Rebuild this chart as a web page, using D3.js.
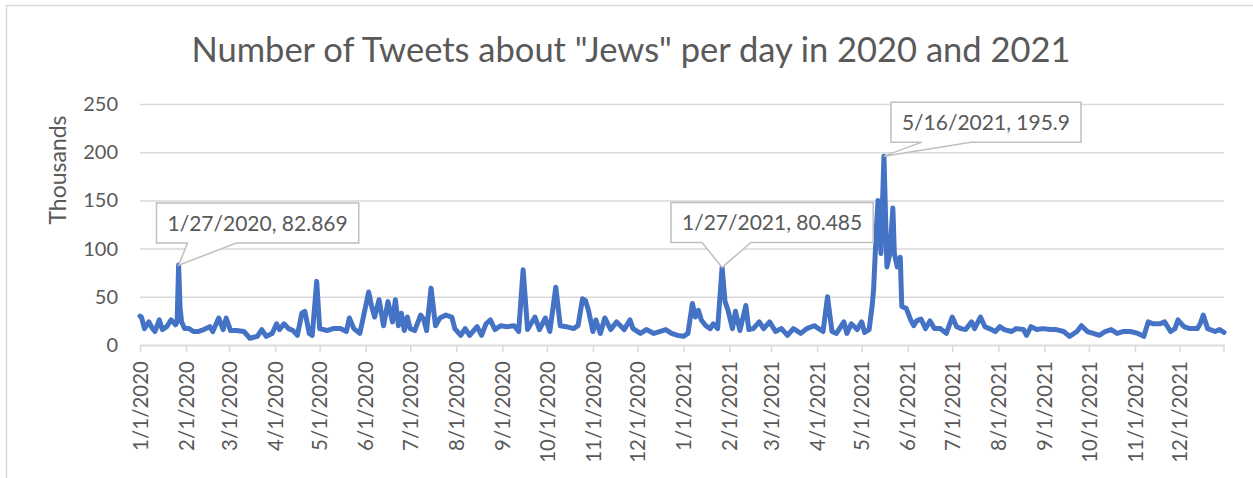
<!DOCTYPE html>
<html>
<head>
<meta charset="utf-8">
<script src="https://cdn.jsdelivr.net/npm/d3@7"></script>
<style>
  body { margin: 0; background: #fff; }
  svg text { font-family: Lato, "Noto Sans", sans-serif; fill: #595959; }
</style>
</head>
<body>
<div id="container"></div>
<script>
'use strict'

// values (thousands of tweets per day)
const dates = [
  "2020-01-01","2020-01-02","2020-01-04","2020-01-07","2020-01-09","2020-01-11","2020-01-14","2020-01-16",
  "2020-01-19","2020-01-22","2020-01-25","2020-01-26","2020-01-27","2020-01-28","2020-01-29","2020-01-31",
  "2020-02-03","2020-02-06","2020-02-09","2020-02-13","2020-02-17","2020-02-19","2020-02-23","2020-02-26",
  "2020-02-28","2020-03-02","2020-03-06","2020-03-11","2020-03-15","2020-03-20","2020-03-23","2020-03-26",
  "2020-03-30","2020-04-02","2020-04-04","2020-04-07","2020-04-10","2020-04-13","2020-04-16","2020-04-19",
  "2020-04-21","2020-04-24","2020-04-26","2020-04-29","2020-05-01","2020-05-06","2020-05-10","2020-05-15",
  "2020-05-19","2020-05-21","2020-05-24","2020-05-28","2020-05-30","2020-06-03","2020-06-05","2020-06-07",
  "2020-06-10","2020-06-13","2020-06-16","2020-06-19","2020-06-21","2020-06-23","2020-06-25","2020-06-27",
  "2020-06-29","2020-07-01","2020-07-04","2020-07-08","2020-07-10","2020-07-12","2020-07-15","2020-07-18",
  "2020-07-21","2020-07-25","2020-07-29","2020-07-31","2020-08-04","2020-08-07","2020-08-10","2020-08-15",
  "2020-08-18","2020-08-21","2020-08-24","2020-08-27","2020-08-31","2020-09-04","2020-09-09","2020-09-12",
  "2020-09-15","2020-09-18","2020-09-23","2020-09-26","2020-09-30","2020-10-03","2020-10-07","2020-10-10",
  "2020-10-14","2020-10-19","2020-10-22","2020-10-25","2020-10-27","2020-10-29","2020-11-01","2020-11-03",
  "2020-11-06","2020-11-09","2020-11-13","2020-11-17","2020-11-22","2020-11-26","2020-11-28","2020-12-03",
  "2020-12-07","2020-12-12","2020-12-16","2020-12-20","2020-12-24","2020-12-28",
  "2021-01-01","2021-01-04","2021-01-07","2021-01-09","2021-01-11","2021-01-13","2021-01-16","2021-01-19",
  "2021-01-21","2021-01-24","2021-01-27","2021-01-29","2021-01-31","2021-02-03","2021-02-05","2021-02-08",
  "2021-02-12","2021-02-14","2021-02-17","2021-02-21","2021-02-24","2021-02-28","2021-03-04","2021-03-08",
  "2021-03-12","2021-03-16","2021-03-21","2021-03-25","2021-03-30","2021-04-02","2021-04-05","2021-04-08",
  "2021-04-11","2021-04-14","2021-04-19","2021-04-21","2021-04-24","2021-04-28","2021-05-01","2021-05-03",
  "2021-05-06","2021-05-08","2021-05-09","2021-05-11","2021-05-12","2021-05-14","2021-05-16","2021-05-18",
  "2021-05-20","2021-05-22","2021-05-23","2021-05-25","2021-05-27","2021-05-28","2021-05-31","2021-06-03",
  "2021-06-05","2021-06-07","2021-06-10","2021-06-13","2021-06-16","2021-06-19","2021-06-23","2021-06-27",
  "2021-07-01","2021-07-04","2021-07-07","2021-07-10","2021-07-14","2021-07-16","2021-07-20","2021-07-23",
  "2021-07-26","2021-07-30","2021-08-02","2021-08-05","2021-08-10","2021-08-13","2021-08-18","2021-08-20",
  "2021-08-23","2021-08-27","2021-08-31","2021-09-05","2021-09-09","2021-09-14","2021-09-18","2021-09-23",
  "2021-09-26","2021-09-30","2021-10-04","2021-10-08","2021-10-12","2021-10-16","2021-10-20","2021-10-24",
  "2021-10-29","2021-11-03","2021-11-07","2021-11-10","2021-11-13","2021-11-18","2021-11-21","2021-11-25",
  "2021-11-28","2021-11-30","2021-12-04","2021-12-08","2021-12-13","2021-12-15","2021-12-17","2021-12-20",
  "2021-12-25","2021-12-28","2021-12-31"
];
const values = [
  30,29,17,24,18,14,26,16,
  19,26,21,24,82.869,38,24,17,
  17,14,14,16,19,14,28,16,
  28,15,15,14,7,9,16,9,
  12,22,16,22,17,15,10,33,
  35,12,10,66,17,15,17,17,
  14,28,17,12,26,55,40,29,
  47,20,45,24,47,20,33,15,
  29,17,15,31,27,15,59,20,
  28,31,29,17,10,17,10,19,
  10,22,26,16,20,19,20,14,
  78,16,29,16,28,14,60,20,
  19,17,20,48,46,36,14,26,
  12,28,16,24,16,26,17,12,
  16,12,14,16,12,10,
  9,12,43,29,36,26,20,17,
  22,17,80.485,45,36,17,35,15,
  41,16,17,24,17,24,14,17,
  10,17,12,17,20,17,14,50,
  14,12,24,12,22,16,24,13,
  16,40,57,123,150,95,195.9,81,
  95,142,95,81,91,40,38,26,
  20,25,27,17,25,17,17,12,
  29,19,17,16,24,17,29,19,
  17,14,19,16,14,17,16,10,
  19,16,17,16,16,14,9,14,
  20,14,12,10,14,16,12,14,
  14,12,9,24,22,22,24,14,
  17,26,19,17,17,22,31,17,
  14,16,13
];

// callouts
const noteDates  = ["2020-01-27", "2021-01-27", "2021-05-16"];
const noteValues = [82.869, 80.485, 195.9];
const noteLabels = ["1/27/2020, 82.869", "1/27/2021, 80.485", "5/16/2021, 195.9"];

const yTicks = [0, 50, 100, 150, 200, 250];
const xTickDates = [
  "2020-01-01","2020-02-01","2020-03-01","2020-04-01","2020-05-01","2020-06-01",
  "2020-07-01","2020-08-01","2020-09-01","2020-10-01","2020-11-01","2020-12-01",
  "2021-01-01","2021-02-01","2021-03-01","2021-04-01","2021-05-01","2021-06-01",
  "2021-07-01","2021-08-01","2021-09-01","2021-10-01","2021-11-01","2021-12-01"
];

const w = 1253, h = 478;
const plotL = 140, plotR = 1224, plotT = 104, plotB = 345;
const parse = d3.timeParse("%Y-%m-%d");
const fmt = d3.timeFormat("%-m/%-d/%Y");

const svg = d3.select("#container").append("svg").attr("width", w).attr("height", h);

// outer chart border
svg.append("rect").attr("x", 6.5).attr("y", 5.5).attr("width", 1300).attr("height", 600)
   .attr("fill", "none").attr("stroke", "#d9d9d9").attr("stroke-width", 1.5);

// title
svg.append("text").text('Number of Tweets about "Jews" per day in 2020 and 2021')
   .attr("x", 631).attr("y", 62).attr("text-anchor", "middle")
   .style("font-size", "34.5px");

//Scales
const xScale = d3.scaleTime().domain([parse("2020-01-01"), parse("2021-12-31")]).range([plotL, plotR]);
const yScale = d3.scaleLinear().domain([0, 250]).range([plotB, plotT]);

// gridlines + y labels
const yAxis = d3.axisLeft(yScale).tickValues(yTicks).tickSize(-(plotR - plotL)).tickPadding(22);
const gy = svg.append("g").attr("transform", "translate(" + plotL + ",0)").call(yAxis);
gy.select(".domain").remove();
gy.selectAll("line").attr("stroke", "#d9d9d9").attr("stroke-width", 1.5);
gy.selectAll("text").style("font-size", "20px").attr("fill", "#595959")
  .style("font-family", "Lato, 'Noto Sans', sans-serif");

// axis title
svg.append("text").text("Thousands")
   .attr("transform", "translate(66,170) rotate(-90)").attr("text-anchor", "middle")
   .style("font-size", "23px");

// x axis
const xAxis = d3.axisBottom(xScale).tickValues(xTickDates.map(parse)).tickFormat(fmt).tickSize(7).tickSizeOuter(0);
const gx = svg.append("g").attr("transform", "translate(0," + plotB + ")").call(xAxis);
gx.select(".domain").attr("stroke", "#d9d9d9").attr("stroke-width", 1.5);
gx.selectAll("line").attr("stroke", "#d9d9d9").attr("stroke-width", 1.5);
gx.append("line").attr("x1", plotR).attr("x2", plotR).attr("y1", 0).attr("y2", 7)
  .attr("stroke", "#d9d9d9").attr("stroke-width", 1.5);
gx.selectAll("text")
  .attr("transform", "rotate(-90)").attr("text-anchor", "end")
  .attr("x", -16).attr("y", 0).attr("dy", "0.35em")
  .style("font-size", "20.5px").attr("fill", "#595959")
  .style("font-family", "Lato, 'Noto Sans', sans-serif");

// line
const series = dates.map((d, i) => ({ date: parse(d), v: values[i] }));
const line = d3.line().x(d => xScale(d.date)).y(d => yScale(d.v));
svg.append("path").datum(series).attr("d", line)
   .attr("fill", "none").attr("stroke", "#4472C4").attr("stroke-width", 5)
   .attr("stroke-linejoin", "round").attr("stroke-linecap", "round");

// callout boxes (layout: box center offset from the point, box bottom gap)
const calloutLayout = [{ dx: 79, gap: 22 }, { dx: 50, gap: 25 }, { dx: 102, gap: 14 }];
noteLabels.forEach(function(label, i) {
  const px = xScale(parse(noteDates[i])), py = yScale(noteValues[i]);
  const g = svg.append("g");
  const path = g.append("path");
  const t = g.append("text").text(label).attr("text-anchor", "middle").style("font-size", "21px");
  const tw = t.node().getComputedTextLength();
  const bw = tw + 22, bh = 40;
  const cx = px + calloutLayout[i].dx;
  const bx = cx - bw / 2, bb = py - calloutLayout[i].gap, bt = bb - bh;
  t.attr("x", cx).attr("y", bt + bh / 2).attr("dy", "0.36em");
  path.attr("d", "M" + bx + "," + bt + " H" + (bx + bw) + " V" + bb + " H" + (bx + 80) +
            " L" + px + "," + py + " L" + (bx + 31) + "," + bb + " H" + bx + " Z")
      .attr("fill", "#fff").attr("stroke", "#bfbfbf").attr("stroke-width", 1.5);
});
</script>
</body>
</html>
